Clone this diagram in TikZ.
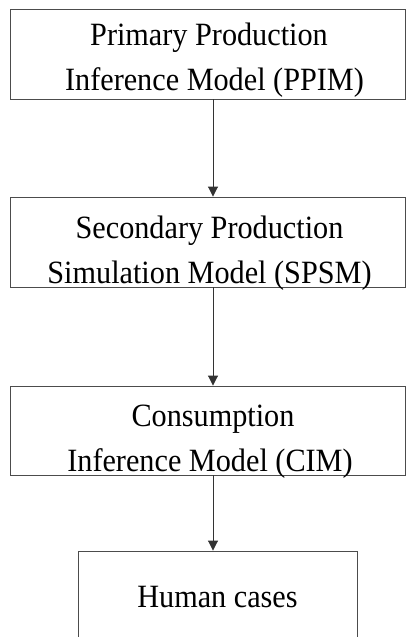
\documentclass[tikz,border=0pt]{standalone}
\usepackage{fontspec}
\setmainfont[FakeStretch=0.93]{Liberation Serif}
\usetikzlibrary{arrows.meta}
\begin{document}
\begin{tikzpicture}[x=1pt,y=-1pt,
  stagebox/.style={draw=black!70,line width=0.9pt,inner sep=0pt},
  lbl/.style={inner sep=0pt,align=center,font=\fontsize{32.5}{44.5}\selectfont,text=black},
  arr/.style={draw=black!80,line width=0.9pt,-{Triangle[length=10pt,width=10pt]}}]
\useasboundingbox (0,0) rectangle (407,637);
\node[stagebox,minimum width=395pt,minimum height=90pt] (ppim) at (207.5,54) {};
\node[stagebox,minimum width=395pt,minimum height=90pt] (spsm) at (207.5,242) {};
\node[stagebox,minimum width=395pt,minimum height=89pt] (cim) at (207.5,430.5) {};
\node[stagebox,minimum width=279pt,minimum height=96pt] (hum) at (217.5,599) {};
\node[lbl] (ppimt) at ([shift={(1.5,6)}]ppim.center) {Primary Production\\\hspace*{11pt}Inference Model (PPIM)};
\node[lbl] (spsmt) at ([shift={(2,11)}]spsm.center) {Secondary Production\\Simulation Model (SPSM)};
\node[lbl] (cimt) at ([shift={(2.5,11)}]cim.center) {\hspace*{6pt}Consumption\\Inference Model (CIM)};
\node[lbl] (humt) at ([shift={(0,-2)}]hum.center) {Human cases};
\coordinate (ax) at (213,0);
\draw[arr] (ppim.south -| ax) -- (spsm.north -| ax);
\draw[arr] (spsm.south -| ax) -- (cim.north -| ax);
\draw[arr] (cim.south -| ax) -- (hum.north -| ax);
\end{tikzpicture}
\end{document}
